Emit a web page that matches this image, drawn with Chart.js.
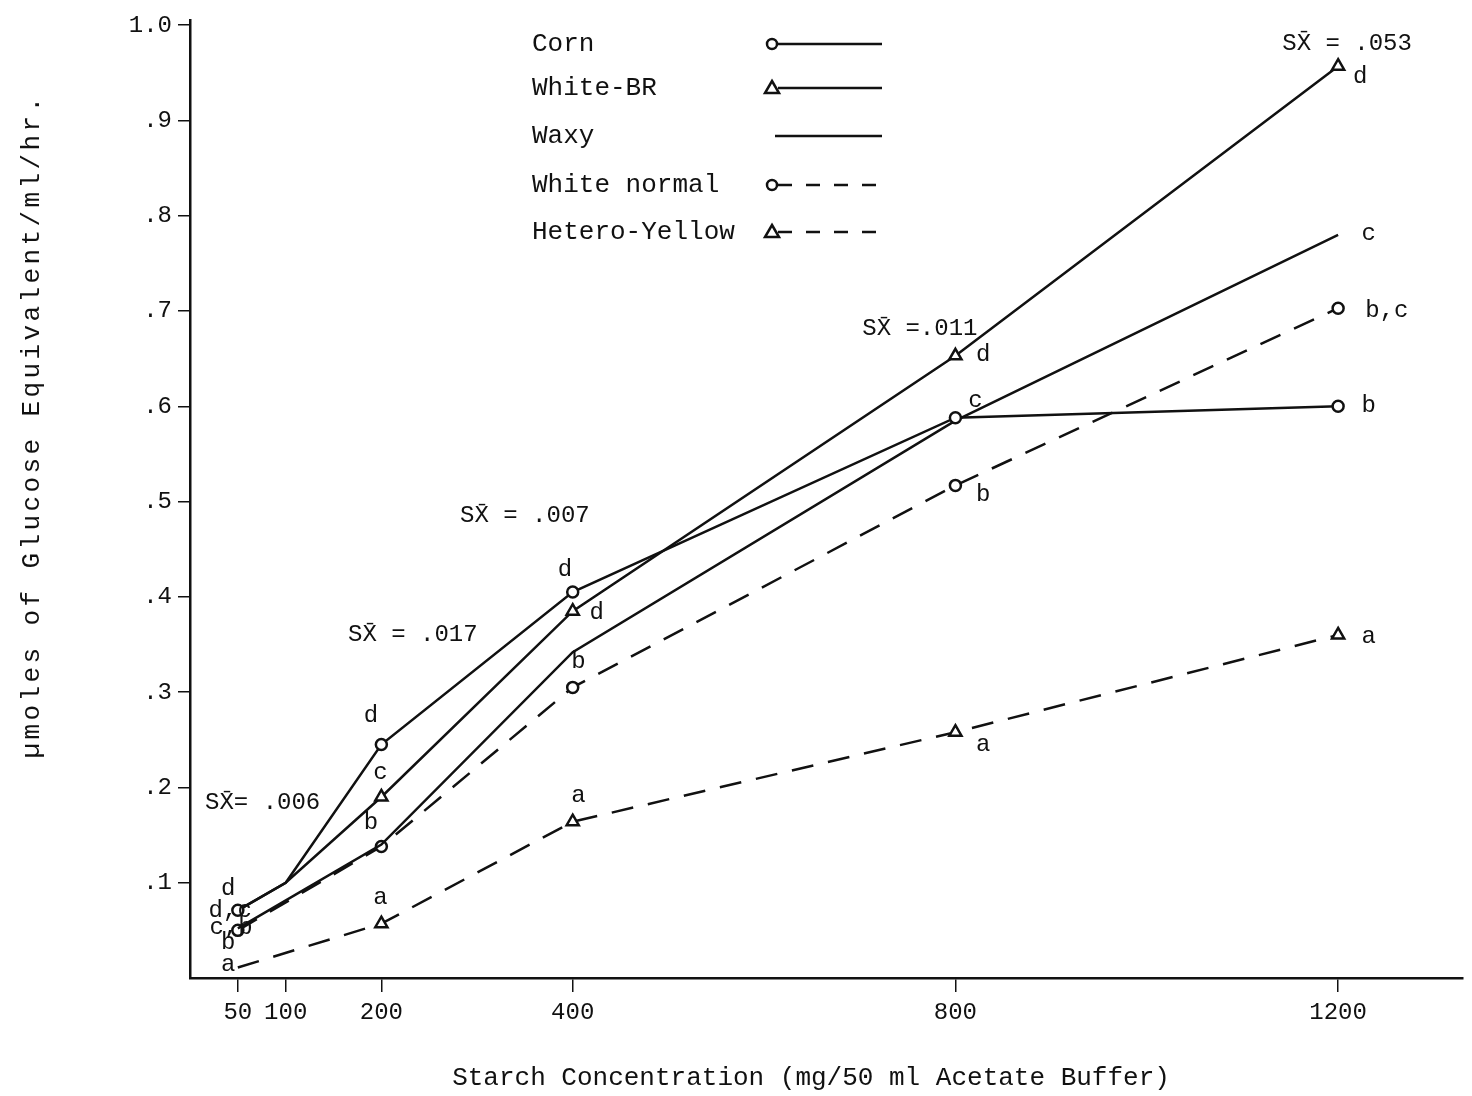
<!DOCTYPE html>
<html>
<head>
<meta charset="utf-8">
<script src="https://cdn.jsdelivr.net/npm/chart.js@4/dist/chart.umd.min.js"></script>
<style>
  html, body { margin: 0; padding: 0; background: #fff; }
  canvas { display: block; }
</style>
</head>
<body>
<canvas id="chart" width="1472" height="1096"></canvas>
<script>
// Data
const concentrations = [50, 100, 200, 400, 800, 1200];
const yTicks = [0.1, 0.2, 0.3, 0.4, 0.5, 0.6, 0.7, 0.8, 0.9, 1.0];

const corn         = [0.071, 0.100, 0.245, 0.405, 0.588, 0.600];
const whiteBR      = [0.071, 0.100, 0.190, 0.385, 0.653, 0.957];
const waxy         = [0.052, null,  0.140, 0.342, 0.585, 0.780];
const whiteNormal  = [0.050, null,  0.138, 0.305, 0.517, 0.703];
const heteroYellow = [0.011, null,  0.057, 0.164, 0.258, 0.360];

const seriesNames = ['Corn', 'White-BR', 'Waxy', 'White normal', 'Hetero-Yellow'];

// letters / standard errors written on the plot (data units)
const noteText = ['SX\u0304 = .053', 'SX\u0304 =.011', 'SX\u0304 = .007', 'SX\u0304 = .017', 'SX\u0304= .006',
  'd', 'c', 'b,c', 'b', 'a',
  'd', 'c', 'b', 'a',
  'd', 'd', 'b', 'a',
  'd', 'c', 'b', 'a',
  'd', 'd,c', 'c,b', 'b', 'a'];
const noteX = [1141.6, 702.6, 282.3, 165.2, 15.7,
  1223, 1232, 1251, 1232, 1232,
  829, 821, 829, 829,
  392, 425, 406, 406,
  189, 199, 189, 199,
  40, 42, 43, 40, 40];
const noteY = [0.981, 0.681, 0.485, 0.360, 0.184,
  0.946, 0.781, 0.700, 0.601, 0.358,
  0.654, 0.606, 0.507, 0.245,
  0.429, 0.383, 0.332, 0.191,
  0.275, 0.216, 0.163, 0.084,
  0.094, 0.071, 0.053, 0.037, 0.014];

const INK = '#111';
const MONO = "'Liberation Mono', 'DejaVu Sans Mono', monospace";

function toPoints(vals) {
  return concentrations.map((c, i) => ({ x: c, y: vals[i] })).filter(p => p.y !== null);
}

const styles = [
  { marker: 'circle', dash: [], radius: 5.5, hideAt: [100] },
  { marker: 'triangle', dash: [], radius: 7, hideAt: [50, 100] },
  { marker: false, dash: [], radius: 0, hideAt: [] },
  { marker: 'circle', dash: [22, 15], radius: 5.5, hideAt: [] },
  { marker: 'triangle', dash: [22, 15], radius: 7, hideAt: [50] }
];

// marker hidden where the figure shows only a bend
const radiusAt = st => ctx => (ctx.raw && st.hideAt.includes(ctx.raw.x) ? 0 : st.radius);

const allSeries = [corn, whiteBR, waxy, whiteNormal, heteroYellow];

const datasets = allSeries.map((vals, i) => ({
  label: seriesNames[i],
  data: toPoints(vals),
  borderColor: INK,
  borderWidth: 2.5,
  borderDash: styles[i].dash,
  tension: 0,
  fill: false,
  pointStyle: styles[i].marker || 'circle',
  pointRadius: radiusAt(styles[i]),
  pointBackgroundColor: '#fff',
  pointBorderColor: INK,
  pointBorderWidth: 2.5
}));

// Legend in the upper part of the plot, typewriter style
const legendPlugin = {
  id: 'typedLegend',
  afterDatasetsDraw(chart) {
    const ctx = chart.ctx;
    const rows = [44, 88, 136, 185, 232];
    ctx.save();
    ctx.font = '26px ' + MONO;
    ctx.fillStyle = INK;
    ctx.textBaseline = 'middle';
    ctx.textAlign = 'left';
    rows.forEach((y, i) => {
      ctx.fillText(seriesNames[i], 532, y);
      const st = styles[i];
      ctx.strokeStyle = INK;
      ctx.lineWidth = 2.5;
      ctx.setLineDash(st.dash.length ? [14, 14] : []);
      ctx.beginPath();
      ctx.moveTo(st.marker ? 778 : 775, y);
      ctx.lineTo(st.dash.length ? 888 : 882, y);
      ctx.stroke();
      ctx.setLineDash([]);
      if (st.marker === 'circle') {
        ctx.beginPath();
        ctx.arc(772, y, 5, 0, Math.PI * 2);
        ctx.fillStyle = '#fff';
        ctx.fill();
        ctx.stroke();
      } else if (st.marker === 'triangle') {
        ctx.beginPath();
        ctx.moveTo(772, y - 7);
        ctx.lineTo(779, y + 5);
        ctx.lineTo(765, y + 5);
        ctx.closePath();
        ctx.fillStyle = '#fff';
        ctx.fill();
        ctx.stroke();
      }
      ctx.fillStyle = INK;
    });
    ctx.restore();
  }
};

// Letters and SX values
const notesPlugin = {
  id: 'notes',
  afterDatasetsDraw(chart) {
    const ctx = chart.ctx;
    const xs = chart.scales.x, ys = chart.scales.y;
    ctx.save();
    ctx.font = '24px ' + MONO;
    ctx.fillStyle = INK;
    ctx.textBaseline = 'middle';
    noteText.forEach((t, i) => {
      ctx.textAlign = t.startsWith('SX') ? 'left' : 'center';
      ctx.fillText(t, xs.getPixelForValue(noteX[i]), ys.getPixelForValue(noteY[i]));
    });
    ctx.restore();
  }
};

// Axis titles
const titlesPlugin = {
  id: 'axisTitles',
  afterDraw(chart) {
    const ctx = chart.ctx;
    ctx.save();
    ctx.fillStyle = INK;
    ctx.textBaseline = 'middle';
    ctx.textAlign = 'center';
    ctx.font = '26px ' + MONO;
    ctx.fillText('Starch Concentration (mg/50 ml Acetate Buffer)', 811, 1078);
    ctx.translate(32, 426);
    ctx.rotate(-Math.PI / 2);
    if ('letterSpacing' in ctx) ctx.letterSpacing = '3.4px';
    ctx.fillText('\u00b5moles of Glucose Equivalent/ml/hr.', 0, 0);
    ctx.restore();
  }
};

new Chart(document.getElementById('chart').getContext('2d'), {
  type: 'line',
  data: { datasets },
  options: {
    responsive: false,
    animation: false,
    devicePixelRatio: 1,
    layout: { padding: { top: 15, right: 2, left: 0, bottom: 0 } },
    plugins: { legend: { display: false }, tooltip: { enabled: false } },
    scales: {
      x: {
        type: 'linear',
        min: 0,
        max: 1330,
        afterBuildTicks: s => { s.ticks = concentrations.map(v => ({ value: v })); },
        afterFit: s => { s.height = 118; },
        grid: { drawOnChartArea: false, drawTicks: true, tickLength: 14, color: INK, lineWidth: 1.5 },
        border: { display: true, color: INK, width: 2.5 },
        ticks: {
          color: INK,
          font: { family: MONO, size: 24 },
          autoSkip: false,
          maxRotation: 0,
          padding: 6,
          callback: v => String(v)
        }
      },
      y: {
        min: 0,
        max: 1.005,
        afterBuildTicks: s => { s.ticks = yTicks.map(v => ({ value: v })); },
        afterFit: s => { s.width = 190; },
        grid: { drawOnChartArea: false, drawTicks: true, tickLength: 12, color: INK, lineWidth: 1.5 },
        border: { display: true, color: INK, width: 2.5 },
        ticks: {
          color: INK,
          font: { family: MONO, size: 24 },
          padding: 6,
          callback: v => (v >= 1 ? '1.0' : '.' + Math.round(v * 10))
        }
      }
    }
  },
  plugins: [legendPlugin, notesPlugin, titlesPlugin]
});
</script>
</body>
</html>
